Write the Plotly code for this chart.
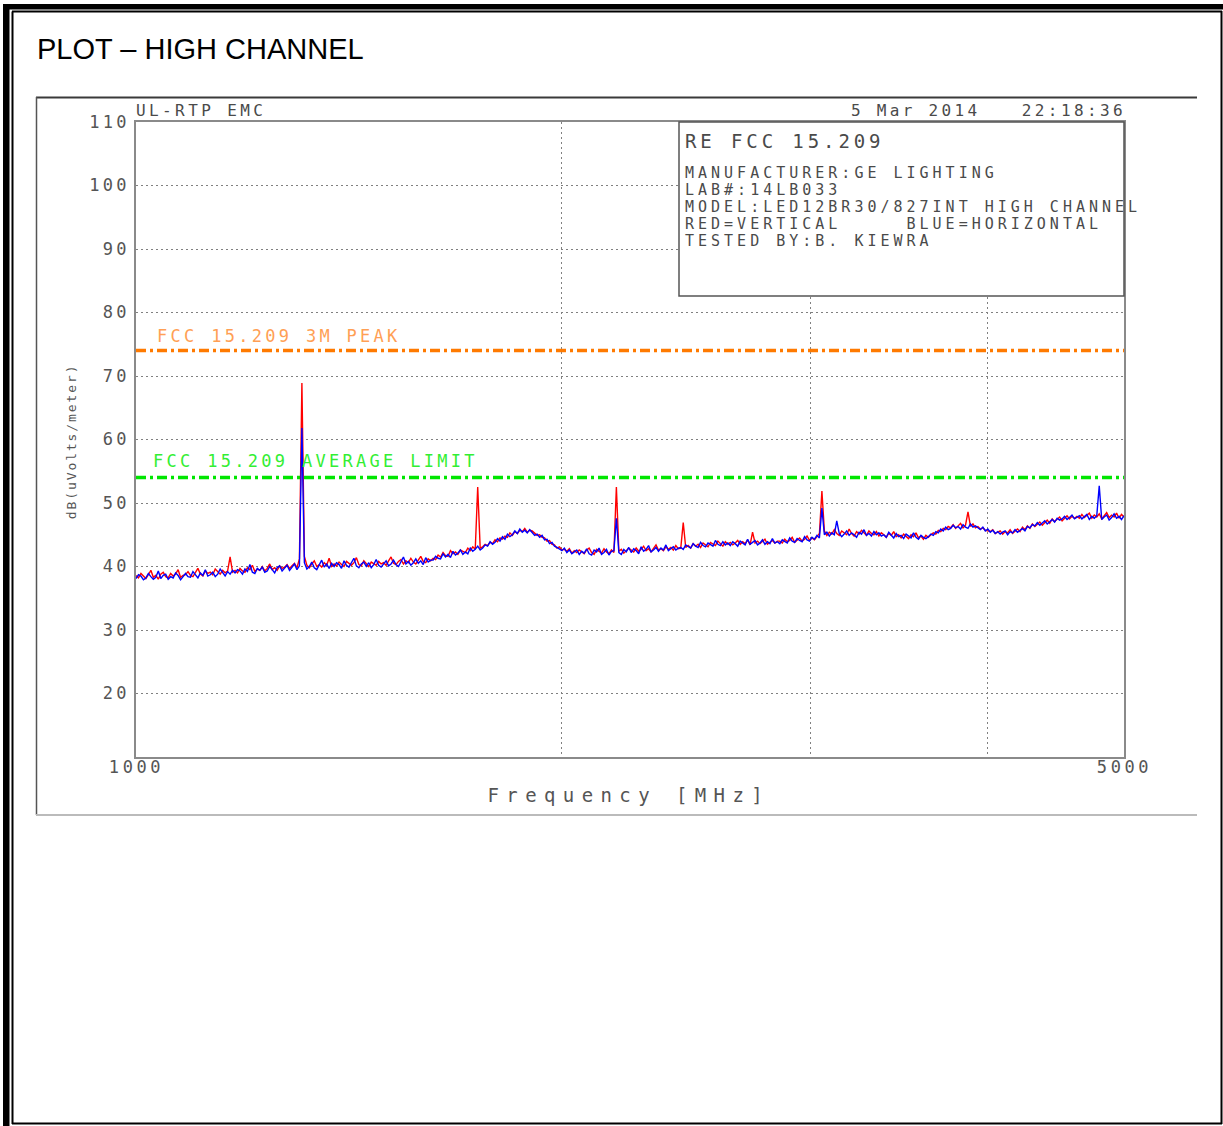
import json
import numpy as np
import plotly.graph_objects as go

# ---- Sweep data: 1000-5000 MHz, 400 points per polarisation (dBuV/m) ----
f_start_mhz = 1000
f_stop_mhz = 5000

vertical_dbuv = [
    38.6, 38.2, 38.9, 38.5, 38.1, 38.7, 39.4, 38.3, 38.6, 38.0, 38.8, 39.1, 38.4, 38.2, 38.9, 38.5, 38.8, 39.5, 38.3, 38.6,
    38.7, 39.2, 38.6, 38.4, 39.0, 39.7, 38.8, 38.5, 39.3, 38.9, 39.1, 38.7, 39.6, 39.2, 38.8, 39.4, 39.0, 39.3, 41.5, 39.1,
    39.4, 39.0, 39.7, 39.3, 39.1, 39.8, 39.5, 40.2, 39.2, 39.6, 39.4, 40.0, 39.3, 39.7, 40.4, 39.5, 39.8, 39.4, 40.1, 39.7,
    39.9, 40.3, 39.7, 40.1, 40.5, 39.8, 41.2, 68.9, 41.6, 40.2, 39.8, 40.4, 40.9, 40.0, 40.3, 39.9, 40.6, 40.2, 41.3, 40.0,
    40.4, 40.1, 40.7, 40.3, 40.0, 40.8, 40.5, 40.2, 40.6, 41.4, 40.3, 40.1, 40.9, 40.4, 40.0, 40.7, 40.5, 40.2, 40.8, 40.4,
    40.6, 40.2, 40.9, 41.5, 40.5, 40.3, 40.8, 41.1, 40.4, 40.9, 40.6, 41.3, 40.7, 40.4, 41.0, 41.6, 40.8, 40.6, 41.2, 40.9,
    41.3, 41.1, 41.8, 41.5, 42.2, 41.7, 41.6, 42.5, 42.0, 42.3, 41.9, 42.6, 42.4, 42.2, 42.9, 42.5, 43.1, 42.7, 52.5, 42.9,
    43.1, 43.5, 43.3, 43.8, 43.6, 44.2, 43.9, 44.5, 44.3, 44.8, 44.6, 45.3, 44.9, 45.5, 45.2, 45.7, 45.5, 46.0, 45.4, 45.7,
    45.6, 45.2, 44.9, 45.0, 44.6, 44.5, 44.0, 44.1, 43.5, 43.4, 42.9, 43.1, 42.6, 42.7, 42.4, 42.8, 42.1, 42.5, 42.2, 42.6,
    42.3, 42.0, 42.6, 42.9, 42.2, 41.9, 42.7, 42.4, 42.1, 42.8, 42.3, 42.0, 42.6, 42.2, 52.5, 42.4, 42.7, 42.1, 42.5, 42.9,
    42.6, 42.3, 42.9, 42.4, 42.7, 43.2, 42.5, 42.8, 42.3, 42.9, 43.4, 42.6, 42.8, 42.5, 43.1, 42.7, 43.0, 42.6, 43.3, 42.8,
    42.9, 46.9, 43.0, 43.3, 42.9, 43.6, 43.2, 43.5, 43.0, 43.7, 43.4, 43.1, 43.8, 43.5, 43.3, 44.0, 43.6, 43.2, 43.9, 43.5,
    43.8, 43.4, 43.7, 44.1, 43.5, 43.9, 43.6, 44.2, 43.4, 45.4, 43.7, 44.0, 43.6, 43.9, 44.3, 43.5, 43.8, 44.1, 43.7, 44.0,
    44.0, 43.7, 44.3, 43.9, 44.1, 44.6, 43.8, 44.2, 44.5, 44.0, 44.3, 44.8, 44.1, 44.5, 44.2, 44.7, 45.2, 51.9, 45.6, 44.9,
    45.4, 45.1, 45.8, 45.2, 44.9, 45.6, 45.3, 45.0, 45.9, 45.2, 44.8, 45.5, 45.1, 45.7, 45.3, 44.9, 45.6, 45.2, 45.0, 45.5,
    44.8, 45.3, 45.0, 44.6, 45.2, 44.9, 45.5, 44.7, 45.0, 44.5, 45.1, 44.8, 44.4, 45.0, 44.7, 45.3, 44.5, 44.8, 44.3, 44.9,
    44.6, 45.0, 45.3, 45.1, 45.7, 45.5, 46.0, 45.8, 46.3, 46.1, 46.6, 46.0, 46.4, 46.8, 46.1, 46.5, 48.6, 46.3, 46.7, 46.1,
    46.3, 45.9, 46.1, 45.7, 45.6, 45.5, 45.8, 45.2, 45.4, 45.6, 45.1, 45.5, 45.3, 45.8, 45.2, 45.6, 45.9, 45.5, 46.2, 45.8,
    46.4, 46.0, 46.7, 46.3, 46.6, 47.0, 46.5, 46.9, 47.3, 46.8, 47.5, 47.1, 47.4, 47.8, 47.2, 47.6, 48.0, 47.5, 47.9, 47.6,
    47.9, 47.6, 48.2, 47.7, 48.0, 48.4, 47.6, 48.1, 47.8, 48.3, 47.5, 48.0, 48.5, 47.7, 48.1, 47.8, 48.4, 47.6, 48.2, 47.8,
]

horizontal_dbuv = [
    38.1, 38.7, 38.5, 37.9, 38.2, 38.9, 38.4, 38.0, 38.3, 39.3, 38.1, 38.6, 38.8, 38.0, 38.4, 38.2, 39.0, 38.6, 37.9, 38.5,
    38.9, 38.4, 38.3, 39.2, 38.7, 38.2, 39.0, 38.6, 39.5, 38.5, 38.7, 39.1, 38.4, 38.8, 39.6, 39.0, 38.5, 39.2, 38.8, 39.4,
    39.0, 39.5, 39.3, 38.8, 39.6, 39.2, 40.3, 39.1, 38.9, 39.7, 39.4, 39.9, 39.1, 39.3, 40.0, 39.5, 39.0, 39.8, 40.1, 39.3,
    39.7, 40.2, 39.4, 39.9, 40.4, 39.5, 40.1, 61.8, 40.6, 39.6, 40.0, 40.7, 39.8, 39.5, 40.3, 41.0, 39.9, 40.4, 39.7, 40.5,
    40.0, 40.6, 40.3, 39.7, 40.9, 40.2, 39.9, 40.5, 41.3, 40.1, 39.8, 40.4, 40.7, 40.0, 40.6, 39.8, 40.3, 41.1, 40.2, 39.9,
    40.5, 40.9, 40.1, 40.4, 41.0, 40.3, 40.0, 40.7, 41.5, 40.4, 40.8, 40.2, 40.6, 41.2, 40.5, 40.9, 40.3, 41.4, 40.7, 41.0,
    41.0, 41.6, 41.3, 41.2, 42.0, 41.5, 41.9, 41.4, 42.4, 41.8, 42.1, 42.6, 41.9, 42.3, 42.0, 42.9, 42.4, 42.7, 43.2, 42.6,
    42.9, 43.4, 43.2, 43.9, 43.5, 43.8, 44.4, 44.0, 44.7, 44.3, 45.1, 44.7, 45.0, 45.6, 45.2, 45.9, 45.4, 45.7, 45.3, 45.8,
    45.4, 44.9, 45.1, 44.6, 44.9, 44.2, 44.3, 43.6, 43.8, 43.2, 43.0, 42.8, 42.5, 42.9, 42.2, 42.6, 42.0, 42.3, 42.6, 41.9,
    42.4, 42.1, 42.8, 42.0, 41.8, 42.6, 42.3, 42.9, 41.9, 42.2, 42.7, 41.8, 42.4, 42.5, 47.6, 42.2, 41.9, 42.7, 42.3, 43.0,
    42.2, 42.8, 42.5, 42.0, 43.1, 42.4, 42.7, 43.3, 42.3, 42.6, 43.0, 42.4, 42.9, 42.6, 43.4, 42.5, 42.8, 43.1, 42.6, 42.9,
    43.0, 42.7, 43.4, 43.1, 42.9, 43.6, 43.2, 43.0, 43.8, 43.3, 43.1, 43.7, 43.4, 43.2, 44.1, 43.5, 43.3, 43.9, 43.4, 43.7,
    43.3, 43.9, 43.6, 43.2, 44.0, 43.7, 43.4, 44.3, 43.5, 43.8, 44.1, 43.4, 43.7, 44.2, 43.5, 43.9, 43.6, 44.4, 43.7, 43.9,
    43.6, 44.2, 43.9, 43.7, 44.5, 44.0, 43.8, 44.4, 44.1, 43.9, 44.7, 44.2, 44.0, 44.6, 44.3, 44.9, 44.5, 49.2, 45.0, 45.4,
    44.8, 45.3, 45.0, 47.2, 45.2, 44.7, 45.1, 45.6, 44.9, 45.3, 45.0, 44.6, 45.4, 45.1, 45.8, 44.9, 45.2, 44.8, 45.5, 45.0,
    45.3, 44.8, 45.0, 44.6, 45.4, 44.9, 44.5, 45.2, 44.7, 44.9, 44.4, 45.1, 44.8, 44.5, 45.3, 44.6, 44.3, 44.9, 44.6, 44.4,
    44.7, 45.1, 44.9, 45.5, 45.3, 45.9, 45.6, 46.2, 45.8, 46.0, 46.5, 46.1, 46.3, 45.9, 46.6, 46.2, 46.0, 46.7, 46.2, 46.4,
    46.1, 45.8, 46.2, 45.6, 45.9, 45.4, 45.7, 45.2, 45.5, 45.1, 45.4, 45.6, 45.0, 45.5, 45.3, 45.8, 45.4, 45.7, 46.0, 45.6,
    46.3, 46.1, 46.6, 46.4, 46.9, 46.5, 46.8, 47.2, 46.7, 47.1, 47.4, 47.0, 47.6, 47.3, 47.5, 47.9, 47.4, 47.7, 48.1, 47.5,
    47.7, 48.0, 47.5, 47.8, 48.2, 47.4, 47.9, 47.6, 48.0, 52.7, 47.4, 47.8, 48.1, 47.3, 47.7, 48.3, 47.6, 47.9, 47.4, 48.0,
]

# FCC 15.209 limits above 1 GHz at 3 m
peak_limit_dbuv = 74.0
average_limit_dbuv = 54.0

y_tick_values = [20, 30, 40, 50, 60, 70, 80, 90, 100, 110]
x_grid_mhz = [1000, 2000, 3000, 4000, 5000]
x_tick_labels = {1000: "1000", 5000: "5000"}

# analyzer sweep points are spaced evenly on the log display
freq_v = np.geomspace(f_start_mhz, f_stop_mhz, len(vertical_dbuv))
freq_h = np.geomspace(f_start_mhz, f_stop_mhz, len(horizontal_dbuv))

W, H = 1223, 1126


def px(x):
    return x / W


def py(y):
    return 1 - y / H


PLOT_FONT = "DejaVu Sans Mono"
INK = "#4a4a4a"
GRID = "#808080"

fig = go.Figure()

# limit lines
fig.add_trace(go.Scatter(
    x=[f_start_mhz, f_stop_mhz], y=[peak_limit_dbuv, peak_limit_dbuv],
    mode="lines", line=dict(color="#FF7A00", width=3.5, dash="10px,4px,3px,4px"),
    hoverinfo="skip"))
fig.add_trace(go.Scatter(
    x=[f_start_mhz, f_stop_mhz], y=[average_limit_dbuv, average_limit_dbuv],
    mode="lines", line=dict(color="#00E600", width=3.5, dash="10px,4px,3px,4px"),
    hoverinfo="skip"))

# measured emissions (horizontal plotted over vertical)
fig.add_trace(go.Scatter(x=freq_v, y=vertical_dbuv, mode="lines",
                         name="VERTICAL", line=dict(color="#FF0000", width=1.4)))
fig.add_trace(go.Scatter(x=freq_h, y=horizontal_dbuv, mode="lines",
                         name="HORIZONTAL", line=dict(color="#0000FF", width=1.4)))

fig.update_xaxes(
    type="log",
    range=[np.log10(f_start_mhz), np.log10(f_stop_mhz)],
    domain=[px(136), px(1124)],
    tickvals=x_grid_mhz, showticklabels=False,
    showgrid=True, gridcolor=GRID, gridwidth=1, griddash="2px,3px",
    showline=True, mirror=True, linecolor="#8a8a8a", linewidth=2,
    ticks="", zeroline=False, automargin=False,
)
fig.update_yaxes(
    range=[10, 110],
    domain=[py(757), py(122)],
    tickvals=y_tick_values,
    showgrid=True, gridcolor=GRID, gridwidth=1, griddash="2px,3px",
    showline=True, mirror=True, linecolor="#8a8a8a", linewidth=2,
    ticks="", ticklabelstandoff=1,
    tickfont=dict(family=PLOT_FONT, size=17, color="#555555"),
    zeroline=False, automargin=False,
)

shapes = [
    # page border: heavy outer rule plus thin inner rule
    dict(type="rect", xref="paper", yref="paper", x0=px(3), x1=px(9.5), y0=py(1126), y1=py(4),
         fillcolor="black", line=dict(width=0)),
    dict(type="rect", xref="paper", yref="paper", x0=px(3), x1=px(1223), y0=py(9.5), y1=py(4),
         fillcolor="black", line=dict(width=0)),
    dict(type="line", xref="paper", yref="paper", x0=px(12.5), x1=px(12.5), y0=py(1124), y1=py(11.5),
         line=dict(color="black", width=2)),
    dict(type="line", xref="paper", yref="paper", x0=px(12), x1=px(1222), y0=py(11.5), y1=py(11.5),
         line=dict(color="black", width=2)),
    dict(type="line", xref="paper", yref="paper", x0=px(1221.5), x1=px(1221.5), y0=py(1124), y1=py(11),
         line=dict(color="black", width=2)),
    dict(type="line", xref="paper", yref="paper", x0=px(12), x1=px(1222), y0=py(1123.5), y1=py(1123.5),
         line=dict(color="black", width=2)),
    # frame around the analyzer plot
    dict(type="line", xref="paper", yref="paper", x0=px(36), x1=px(1197), y0=py(97.5), y1=py(97.5),
         line=dict(color="#3a3a3a", width=2)),
    dict(type="line", xref="paper", yref="paper", x0=px(36.5), x1=px(36.5), y0=py(815), y1=py(97),
         line=dict(color="#555555", width=1.5)),
    dict(type="line", xref="paper", yref="paper", x0=px(36), x1=px(1197), y0=py(815), y1=py(815),
         line=dict(color="#bbbbbb", width=2)),
    # test information box
    dict(type="rect", xref="paper", yref="paper", x0=px(679), x1=px(1124), y0=py(296), y1=py(122),
         fillcolor="white", line=dict(color="#555555", width=1.5), layer="above"),
]

# (annotation, letter spacing in px) pairs
labels = []


def label(text, x, y, size, color=INK, anchor="left", spacing=0.0, family=PLOT_FONT, **kw):
    labels.append((dict(text=text, x=px(x), y=py(y), xanchor=anchor, yanchor="middle",
                        align=anchor, xref="paper", yref="paper", showarrow=False, borderpad=0,
                        font=dict(family=family, size=size, color=color), **kw), spacing))


label("PLOT – HIGH CHANNEL", 36, 49, 29, color="black", family="Liberation Sans, Arial")
label("UL-RTP EMC", 135, 110, 16, spacing=3.4)
label("5 Mar 2014", 850, 110, 16, spacing=3.3)
label("22:18:36", 1127, 110, 16, anchor="right", spacing=3.4)
label("RE FCC 15.209", 684, 141, 19, spacing=3.9)
label("MANUFACTURER:GE LIGHTING", 684, 173, 15, spacing=4.0)
label("LAB#:14LB033", 684, 190, 15, spacing=4.0)
label("MODEL:LED12BR30/827INT HIGH CHANNEL", 684, 207, 15, spacing=4.0)
label("RED=VERTICAL     BLUE=HORIZONTAL", 684, 224, 15, spacing=4.0)
label("TESTED BY:B. KIEWRA", 684, 241, 15, spacing=4.0)
label("FCC 15.209 3M PEAK", 156, 336, 17, color="#FF9F55", spacing=3.3)
label("FCC 15.209 AVERAGE LIMIT", 152, 461, 17, color="#33EE33", spacing=3.3)
label("Frequency [MHz]", 629, 795, 19, color="#555555", anchor="center", spacing=7.4)
label("dB(uVolts/meter)", 72, 442, 13, color="#555555", anchor="center", spacing=1.9, textangle=-90)

# frequency tick labels placed on the log axis
for f, t in x_tick_labels.items():
    labels.append((dict(text=t, x=np.log10(f), xref="x", y=py(767), yref="paper",
                        xanchor="center", yanchor="middle", showarrow=False, borderpad=0,
                        font=dict(family=PLOT_FONT, size=17, color="#555555")), 3.6))

annotations = [a for a, _ in labels]

css = "html,body{margin:0;padding:0;overflow:hidden;}\n"
css += ".ytick text{letter-spacing:3.2px;}\n"
for i, (_, sp) in enumerate(labels):
    if sp:
        css += '.annotation[data-index="%d"] .annotation-text{letter-spacing:%.1fpx;}\n' % (i, sp)

post_js = (
    "var s=document.createElement('style');"
    "s.textContent=" + json.dumps(css) + ";"
    "document.head.appendChild(s);"
)

fig.update_layout(
    width=W, height=H,
    margin=dict(l=0, r=0, t=0, b=0, autoexpand=False),
    paper_bgcolor="white", plot_bgcolor="white",
    showlegend=False,
    shapes=shapes,
    annotations=annotations,
)

fig.write_html("out.html", post_script=post_js)
